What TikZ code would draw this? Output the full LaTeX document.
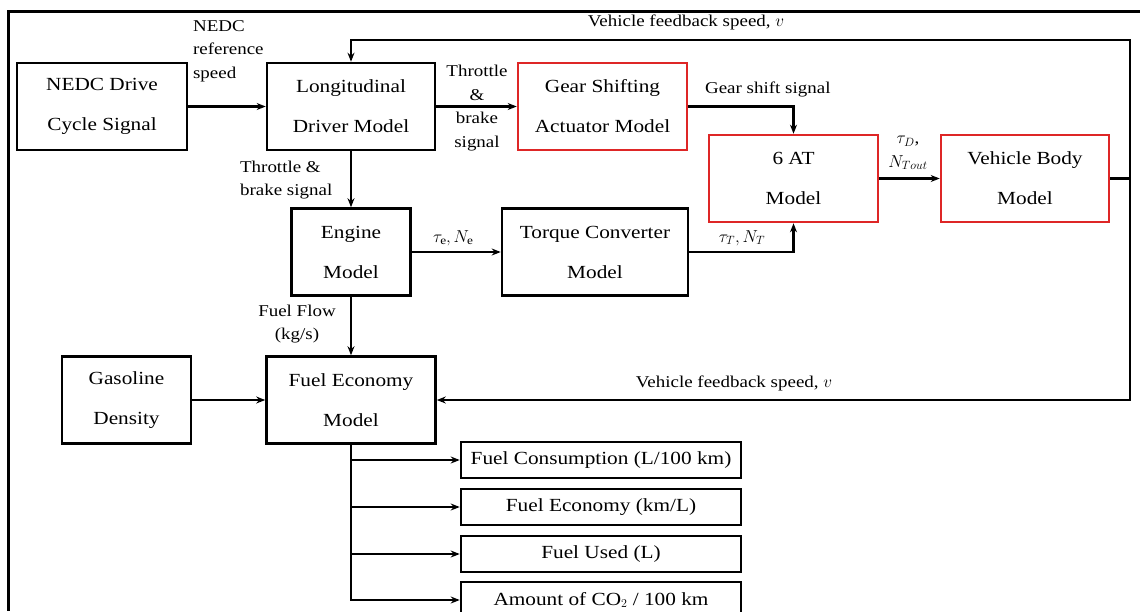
\documentclass[tikz,border=0pt]{standalone}
\usepackage{fontspec}
\setmainfont{Liberation Serif}[FakeStretch=1.15]
\usetikzlibrary{arrows.meta}
\definecolor{gearred}{RGB}{222,38,38}

\begin{document}
\begin{tikzpicture}[x=1pt, y=-1pt, >={Stealth[length=9pt,width=7pt]}, line width=2.2pt,
  block/.style={draw=black, line width=2.6pt, align=center, inner sep=0pt, minimum width=#1, minimum height=87pt, font=\fontsize{18.5}{40}\selectfont},
  block/.default=168pt,
  redblock/.style={block=#1, draw=gearred},
  redblock/.default=169pt,
  outbox/.style={draw=black, line width=2.6pt, inner sep=0pt, minimum width=280pt, minimum height=36pt, font=\fontsize{18.5}{22}\selectfont},
  sig/.style={align=#1, inner sep=0pt, font=\fontsize{16.5}{23.5}\selectfont},
  sig/.default=center]
\useasboundingbox (0,0) rectangle (1140,611);
\clip (0,0) rectangle (1140,611);

% frame
\draw[line width=3pt] (1140,11) -- (8,11) -- (8,611);

% blocks
\node[block=170pt] (nedc) at (102,106.5) {NEDC Drive\\Cycle Signal};
\node[block] (ldm) at (351,106.5) {Longitudinal\\Driver Model};
\node[redblock] (gsa) at (602.5,106.5) {Gear Shifting\\Actuator Model};
\node[redblock] (sixat) at (793.5,178.5) {6 AT\\Model};
\node[redblock=168pt] (vbm) at (1025,178.5) {Vehicle Body\\Model};
\node[block=119pt] (eng) at (351,252) {Engine\\Model};
\node[block=186pt] (tcm) at (595,252) {Torque Converter\\Model};
\node[block=129pt] (gas) at (126.5,400) {Gasoline\\Density};
\node[block=169pt] (fem) at (351,400) {Fuel Economy\\Model};

% outputs
\node[outbox] (fc) at (601,460) {Fuel Consumption (L/100 km)};
\node[outbox] (fe) at (601,507) {Fuel Economy (km/L)};
\node[outbox] (fu) at (601,554) {Fuel Used (L)};
\node[outbox] (co) at (601,600) {Amount of CO$_2$ / 100 km};

% signals
\draw[->] (nedc) -- (ldm);
\draw[->] (ldm) -- (gsa);
\draw[->] (gsa.east) -| (sixat.north);
\draw[->] (ldm) -- (eng);
\draw[->] (eng) -- (tcm);
\draw[->] (tcm.east) -| (sixat.south);
\draw[->] (sixat) -- (vbm);
\coordinate (fbtop) at (1130,40);
\coordinate (fbbot) at (1130,400);
\draw[->] (vbm.east) -| (fbtop) -| (ldm.north);
\draw[->] (vbm.east) -| (fbbot) -- (fem.east);
\draw[->] (gas) -- (fem);
\draw[->] (eng) -- (fem);
\foreach \o in {fc,fe,fu,co}
  \draw[->] (fem.south) |- (\o.west);

% labels
\node[sig=left, anchor=west] (refl) at (192,51) {NEDC\\reference\\speed};
\node[sig] (tbr) at (477,108) {Throttle\\\&\\brake\\signal};
\node[sig=left, anchor=west] (tbd) at (239,180) {Throttle \&\\brake signal};
\node[sig, anchor=west] (gsl) at (704,89) {Gear shift signal};
\node[sig] (tel) at (453,238) {$\tau_{\mathrm{e}}, N_{\mathrm{e}}$};
\node[sig] (ttl) at (742,238) {$\tau_T, N_T$};
\node[sig] (tdl) at (908,153) {$\tau_D$,\\$N_{Tout}$};
\node[sig] (fbt) at (686,22) {Vehicle feedback speed, $v$};
\node[sig] (fbb) at (734,383) {Vehicle feedback speed, $v$};
\node[sig] (ffl) at (297,324) {Fuel Flow\\(kg/s)};
\end{tikzpicture}
\end{document}
